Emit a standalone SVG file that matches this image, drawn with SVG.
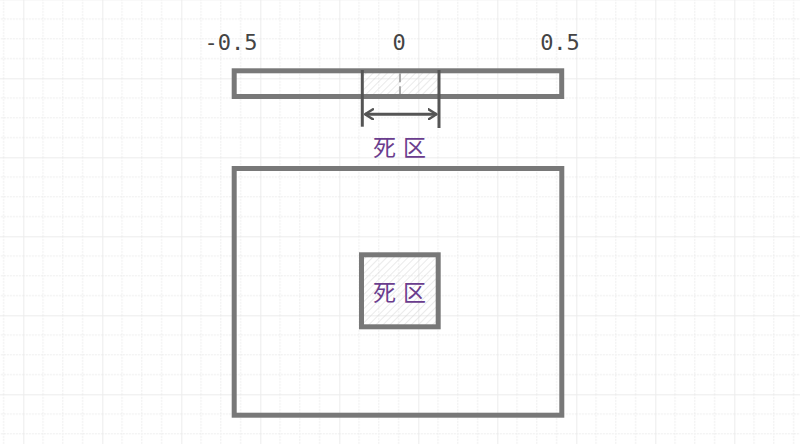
<svg xmlns="http://www.w3.org/2000/svg" width="800" height="444" viewBox="0 0 800 444">
<defs>
<pattern id="grid" x="23.3" y="78.3" width="79" height="79" patternUnits="userSpaceOnUse">
<path d="M19.75 0V79M39.5 0V79M59.25 0V79M0 19.75H79M0 39.5H79M0 59.25H79" stroke="#e8e8e8" stroke-width="1" stroke-dasharray="1.5 1.5" fill="none"/>
<path d="M0.5 0V79M0 0.5H79" stroke="#ececec" stroke-width="1.2" fill="none"/>
</pattern>
<pattern id="hatch" width="5" height="5" patternUnits="userSpaceOnUse" patternTransform="rotate(45)">
<line x1="0" y1="0" x2="0" y2="5" stroke="#d6d6d6" stroke-width="1"/>
</pattern>
<marker id="chev" viewBox="0 0 10 12" refX="9" refY="6" markerWidth="10" markerHeight="12" markerUnits="userSpaceOnUse" orient="auto-start-reverse">
<path d="M1 1L9 6L1 11" fill="none" stroke="#555" stroke-width="2.5" stroke-linecap="round" stroke-linejoin="round"/>
</marker>
</defs>
<style>
.box{fill:none;stroke:#787878;stroke-width:5}
.lim{stroke:#555;stroke-width:3}
.num{font-family:"DejaVu Sans Mono","Liberation Mono",monospace;font-size:22px;fill:#444;text-anchor:middle}
.lbl{font-family:"Noto Sans CJK SC",sans-serif;font-size:23px;fill:#6a3d8e;text-anchor:middle;letter-spacing:7px}
</style>
<rect width="800" height="444" fill="#fff"/>
<rect width="800" height="444" fill="url(#grid)"/>
<g id="axis-labels">
<text class="num" x="231" y="49.5">-0.5</text>
<text class="num" x="399" y="49.5">0</text>
<text class="num" x="560" y="49.5">0.5</text>
</g>
<g id="bar">
<rect x="362.5" y="73" width="76" height="21" fill="url(#hatch)"/>
<rect class="box" x="234.2" y="70.8" width="327.5" height="25.7"/>
<line x1="400" y1="73.3" x2="400" y2="94" stroke="#aaa" stroke-width="2" stroke-dasharray="9 4"/>
</g>
<g id="connectors">
<line class="lim" x1="362.3" y1="70" x2="362.3" y2="126.7"/>
<line class="lim" x1="439" y1="70" x2="439" y2="128"/>
<line x1="365" y1="114.3" x2="436.5" y2="114.3" stroke="#555" stroke-width="3" marker-start="url(#chev)" marker-end="url(#chev)"/>
</g>
<g id="bar-label">
<text class="lbl" x="403" y="156">死区</text>
</g>
<g id="plane">
<rect class="box" x="234.2" y="168.5" width="327.6" height="246.7"/>
</g>
<g id="deadzone">
<rect x="361.5" y="254.8" width="76.7" height="72" fill="url(#hatch)"/>
<rect class="box" x="361.5" y="254.8" width="76.7" height="72"/>
<text class="lbl" x="403" y="301">死区</text>
</g>
</svg>
